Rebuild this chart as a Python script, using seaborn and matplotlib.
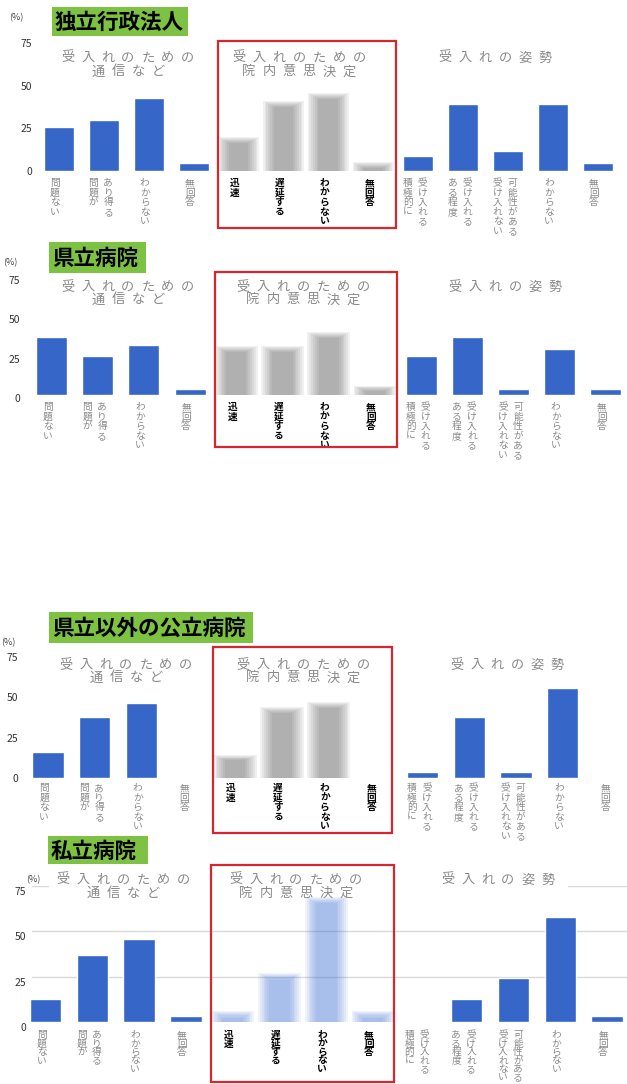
import numpy as np
import pandas as pd
import matplotlib
matplotlib.use("Agg")
import matplotlib.pyplot as plt
import seaborn as sns
from matplotlib.patches import Rectangle
from matplotlib.transforms import IdentityTransform, ScaledTranslation

# ---------------- data ----------------
panel_names = ["独立行政法人", "県立病院", "県立以外の公立病院", "私立病院"]
title_comm = ["受入れのための", "通信など"]
title_dec = ["受入れのための", "院内意思決定"]
title_att = ["受入れの姿勢"]
labels_comm = [["問題ない"], ["問題が", "あり得る"], ["わからない"], ["無回答"]]
labels_dec = [["迅速"], ["遅延する"], ["わからない"], ["無回答"]]
labels_att = [["積極的に", "受け入れる"], ["ある程度", "受け入れる"],
              ["受け入れない", "可能性がある"], ["わからない"], ["無回答"]]
y_ticks = [0, 25, 50, 75]

comm_dokuritsu = [26, 30, 43, 4.5]
dec_dokuritsu = [18, 39, 43.5, 3.5]
att_dokuritsu = [9, 39, 12, 39, 4.5]

comm_kenritsu = [37, 25, 32, 4]
dec_kenritsu = [29, 29, 38, 4]
att_kenritsu = [25, 37, 4, 29, 4]

comm_kouritsu = [16, 38, 46.5, 0]
dec_kouritsu = [12.5, 42, 45, 0]
att_kouritsu = [3.5, 38, 3.5, 56, 0]

comm_shiritsu = [12.5, 37, 46, 3.5]
dec_shiritsu = [4, 25, 67, 4]
att_shiritsu = [0, 12.5, 24.5, 58, 3.5]

panel_data = [
    (comm_dokuritsu, dec_dokuritsu, att_dokuritsu),
    (comm_kenritsu, dec_kenritsu, att_kenritsu),
    (comm_kouritsu, dec_kouritsu, att_kouritsu),
    (comm_shiritsu, dec_shiritsu, att_shiritsu),
]

# ---------------- style / layout (pixels) ----------------
W, H = 627, 1084
BLUE = "#3566C8"
GREEN = "#7dc242"
RED = "#d7262e"
SIDE_TXT = "#8a8a8a"

layouts = [
    dict(left=36.5, pitch=44.9, y0=171, y75=43, box=(52, 7, 188, 36), red=(218, 41, 396, 228),
         pct=(16, 18), gtx=(128, 299, 495), gty=(58, 72), ltop=178, lpitch=9.6, ypad=3.2, yshift=0,
         grid=False, soft="#505050"),
    dict(left=28.4, pitch=46.2, y0=395, y75=277, box=(49, 242, 146, 273), red=(215, 272, 397, 447),
         pct=(10, 263), gtx=(128, 303, 505), gty=(287, 300), ltop=402, lpitch=9.6, ypad=6, yshift=3,
         grid=False, soft="#505050"),
    dict(left=24.6, pitch=46.8, y0=778, y75=657, box=(49, 612, 253, 643), red=(213, 647, 392, 833),
         pct=(8, 643), gtx=(126, 303, 507), gty=(665, 678), ltop=783, lpitch=9.6, ypad=4.7, yshift=0,
         grid=False, soft="#505050"),
    dict(left=22.1, pitch=46.8, y0=1022, y75=886, box=(48, 836, 148, 864), red=(211, 865, 394, 1082),
         pct=(33, 880), gtx=(123, 296, 498), gty=(880, 893), ltop=1030, lpitch=8.5, ypad=-2.8, yshift=5,
         grid=True, soft="#3d6fd6"),
]

sns.set_theme(style="white")
plt.rcParams["font.family"] = ["Noto Sans CJK JP", "DejaVu Sans"]

fig = plt.figure(figsize=(W / 100, H / 100), dpi=100)
fig.patch.set_facecolor("white")


def fig_text_px(x, y, s, **kw):
    fig.text(x, H - y, s, transform=IdentityTransform(), **kw)


def spaced_line(cx, cy, s, pitch, **kw):
    n = len(s)
    for i, ch in enumerate(s):
        fig_text_px(cx + (i - (n - 1) / 2) * pitch, cy, ch, ha="center", va="center", **kw)


def vertical(cx, top, s, pitch, **kw):
    for i, ch in enumerate(s):
        fig_text_px(cx, top + i * pitch, ch, ha="center", va="top", **kw)


for name, (comm, dec, att), L in zip(panel_names, panel_data, layouts):
    ax = fig.add_axes([L["left"] / W, 1 - L["y0"] / H, 13 * L["pitch"] / W, (L["y0"] - L["y75"]) / H])
    ax.set_facecolor("none")

    pos_blue = list(range(0, 4)) + list(range(8, 13))
    df_blue = pd.DataFrame({"pos": pos_blue, "val": list(comm) + list(att)})
    sns.barplot(data=df_blue, x="pos", y="val", native_scale=True, color=BLUE, saturation=1,
                width=0.67, errorbar=None, ax=ax, zorder=3)

    # soft (blurred) middle group
    pos_mid = np.arange(4, 8)
    for k in range(7):
        hts = [v + 2.0 - 0.6 * k if v > 0 else 0 for v in dec]
        ax.bar(pos_mid, hts, width=0.92 - 0.08 * k, color=L["soft"], alpha=0.08, linewidth=0, zorder=3)

    ax.set_xlim(-0.5, 12.5)
    ax.set_ylim(0, 75)
    ax.set_xlabel("")
    ax.set_ylabel("")
    ax.set_xticks([])
    ax.set_yticks(y_ticks)
    ax.set_yticklabels([str(t) for t in y_ticks])
    ax.tick_params(axis="y", length=0, labelsize=7.5, labelcolor="#333333", pad=L["ypad"])
    if L["yshift"]:
        off = ScaledTranslation(0, -L["yshift"] / 100, fig.dpi_scale_trans)
        for lbl in ax.get_yticklabels():
            lbl.set_transform(lbl.get_transform() + off)
    for sp in ax.spines.values():
        sp.set_visible(False)

    if L["grid"]:
        axw = 13 * L["pitch"]
        x_start = (32 - L["left"]) / axw
        for t in (25, 50):
            ax.axhline(t, xmin=x_start, xmax=1, color="#d9d9d9", lw=1, zorder=1)
        ax.axhline(75, xmin=x_start, xmax=(48 - L["left"]) / axw, color="#d9d9d9", lw=1, zorder=1)
        ax.axhline(75, xmin=(568 - L["left"]) / axw, xmax=1, color="#d9d9d9", lw=1, zorder=1)

    # category labels (vertical text)
    def put_labels(positions, labels, color, weight):
        for p, cols in zip(positions, labels):
            cx = ax.transData.transform((p, 0))[0]
            offs = [-4] if len(cols) == 1 else [-10.5, 4.5]
            for o, s in zip(offs, cols):
                vertical(cx + o, L["ltop"], s, L["lpitch"], fontsize=7, color=color, fontweight=weight)

    put_labels(range(0, 4), labels_comm, SIDE_TXT, "normal")
    put_labels(range(4, 8), labels_dec, "black", "bold")
    put_labels(range(8, 13), labels_att, SIDE_TXT, "normal")

    # group titles
    for cx, lines in zip(L["gtx"], (title_comm, title_dec, title_att)):
        for cy, s in zip(L["gty"], lines):
            spaced_line(cx, cy, s, 20, fontsize=9.5, color=SIDE_TXT)

    # (%) label
    fig_text_px(L["pct"][0], L["pct"][1], "(%)", ha="center", va="center", fontsize=6.5, color="#444444")

    # green title box
    bx0, by0, bx1, by1 = L["box"]
    fig.add_artist(Rectangle((bx0 / W, 1 - by1 / H), (bx1 - bx0) / W, (by1 - by0) / H,
                             transform=fig.transFigure, facecolor=GREEN, edgecolor="none", zorder=5))
    fig_text_px(bx0 + 3, (by0 + by1) / 2 + 1, name, ha="left", va="center", fontsize=15.5,
                fontweight="bold", color="black", zorder=6)

    # red frame
    rx0, ry0, rx1, ry1 = L["red"]
    fig.add_artist(Rectangle((rx0 / W, 1 - ry1 / H), (rx1 - rx0) / W, (ry1 - ry0) / H,
                             transform=fig.transFigure, fill=False, edgecolor=RED, lw=1.6, zorder=6))

fig.savefig("out.png", dpi=100, facecolor="white")
